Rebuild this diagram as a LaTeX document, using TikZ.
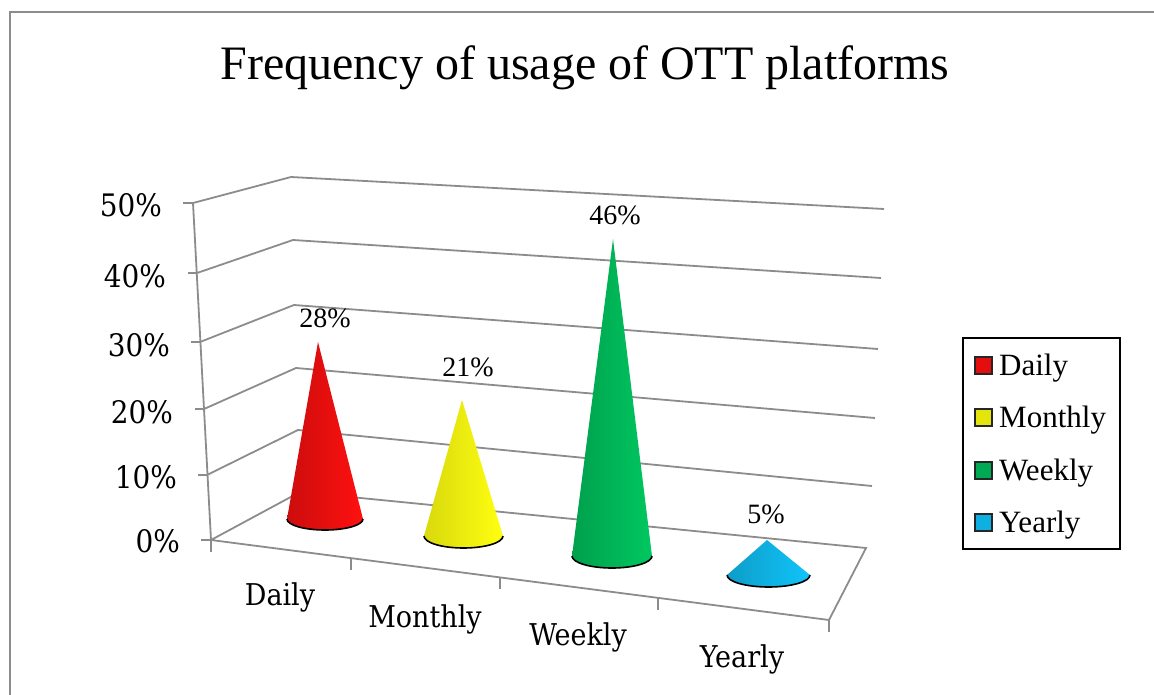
\documentclass[tikz,border=0pt]{standalone}
\usepackage{fontspec}
\setmainfont{Liberation Serif}
\newfontfamily\axisfont{DejaVu Serif Condensed}
\usetikzlibrary{calc}
\definecolor{dailyc}{HTML}{FF1010}
\definecolor{monthlyc}{HTML}{FFFF10}
\definecolor{weeklyc}{HTML}{00C860}
\definecolor{yearlyc}{HTML}{10C4FA}
\begin{document}
\begin{tikzpicture}[
  x=1pt, y=-1pt,
  grid/.style={draw=black!45, line width=1.8pt},
  frame/.style={draw=black!45, line width=2pt},
  base/.style={draw=black, line width=1.6pt},
  ticklab/.style={font=\axisfont\fontsize{31}{36}\selectfont, anchor=east, inner sep=0pt},
  catlab/.style={font=\axisfont\fontsize{30}{35}\selectfont, anchor=base, inner sep=0pt},
  vallab/.style={font=\fontsize{28}{32}\selectfont, anchor=base, inner sep=0pt},
  legtext/.style={font=\fontsize{31}{35}\selectfont, anchor=base west, inner sep=0pt},
  legkey/.style={draw=black!85, line width=1.5pt, minimum size=17pt, inner sep=0pt},
]
\useasboundingbox (0,0) rectangle (1154,695);
\draw[frame] (10,695) -- (10,12) -- (1154,12);

\node[font=\fontsize{48}{56}\selectfont, anchor=base] (title) at (585,80)
  {Frequency of usage of OTT platforms};

% back wall and floor
\draw[grid] (193,203) -- (291,177) -- (884,209);
\draw[grid] (197,273) -- (293,240) -- (881,278);
\draw[grid] (200,342) -- (294,305) -- (878,349);
\draw[grid] (204,409) -- (296,368) -- (875,418);
\draw[grid] (207,475) -- (298,430) -- (872,486);
\draw[grid] (211,540) -- (300,492) -- (866,548) -- (829,620) -- cycle;

% value axis
\draw[grid] (193,203) -- (211,540);
\draw[grid] (183,203) -- (193,203);
\draw[grid] (188,273) -- (197,273);
\draw[grid] (191,342) -- (200,342);
\draw[grid] (195,409) -- (204,409);
\draw[grid] (198,475) -- (207,475);
\draw[grid] (201,540) -- (211,540);
\node[ticklab] (t50) at (162,205) {50\%};
\node[ticklab] (t40) at (166,276) {40\%};
\node[ticklab] (t30) at (170,345) {30\%};
\node[ticklab] (t20) at (173,412) {20\%};
\node[ticklab] (t10) at (177,477) {10\%};
\node[ticklab] (t0)  at (180,541) {0\%};

% category axis
\draw[grid] (211,540) -- (211,552);
\draw[grid] (351,558) -- (351,570);
\draw[grid] (500,577) -- (500,589);
\draw[grid] (658,598) -- (658,610);
\draw[grid] (829,620) -- (829,632);
\node[catlab] (cdaily)   at (280,605) {Daily};
\node[catlab] (cmonthly) at (425,627) {Monthly};
\node[catlab] (cweekly)  at (578,645) {Weekly};
\node[catlab] (cyearly)  at (742,667) {Yearly};

% cones
\shade[left color=dailyc!80!black, middle color=dailyc!85!white, right color=dailyc]
  (287,519) -- (318,342) -- (363,519) arc[start angle=0, end angle=180, x radius=38, y radius=11] -- cycle;
\draw[base] (363,519) arc[start angle=0, end angle=180, x radius=38, y radius=11];
\shade[left color=monthlyc!85!black, middle color=monthlyc!90!white, right color=monthlyc]
  (424,536) -- (462,400) -- (503,536) arc[start angle=0, end angle=180, x radius=39.5, y radius=12] -- cycle;
\draw[base] (503,536) arc[start angle=0, end angle=180, x radius=39.5, y radius=12];
\shade[left color=weeklyc!80!black, middle color=weeklyc!85!white, right color=weeklyc]
  (572,556) -- (613,239) -- (652,556) arc[start angle=0, end angle=180, x radius=40, y radius=12] -- cycle;
\draw[base] (652,556) arc[start angle=0, end angle=180, x radius=40, y radius=12];
\shade[left color=yearlyc!80!black, middle color=yearlyc!85!white, right color=yearlyc]
  (727,575) -- (767,540) -- (810,575) arc[start angle=0, end angle=180, x radius=41.5, y radius=12] -- cycle;
\draw[base] (810,575) arc[start angle=0, end angle=180, x radius=41.5, y radius=12];

\node[vallab] (vdaily)   at (325,327) {28\%};
\node[vallab] (vmonthly) at (468,376) {21\%};
\node[vallab] (vweekly)  at (615,225) {46\%};
\node[vallab] (vyearly)  at (766,523) {5\%};

% legend
\draw[line width=1.6pt] (963,338) rectangle (1120,549);
\node[legkey, fill=dailyc!90!black]   (kdaily)   at (983.5,365.5) {};
\node[legkey, fill=monthlyc!90!black] (kmonthly) at (983.5,417.5) {};
\node[legkey, fill=weeklyc!85!black]  (kweekly)  at (983.5,470.5) {};
\node[legkey, fill=yearlyc!90!black]  (kyearly)  at (983.5,522.5) {};
\node[legtext] (ldaily)   at (999,375) {Daily};
\node[legtext] (lmonthly) at (999,427) {Monthly};
\node[legtext] (lweekly)  at (999,480) {Weekly};
\node[legtext] (lyearly)  at (999,532) {Yearly};
\end{tikzpicture}
\end{document}
